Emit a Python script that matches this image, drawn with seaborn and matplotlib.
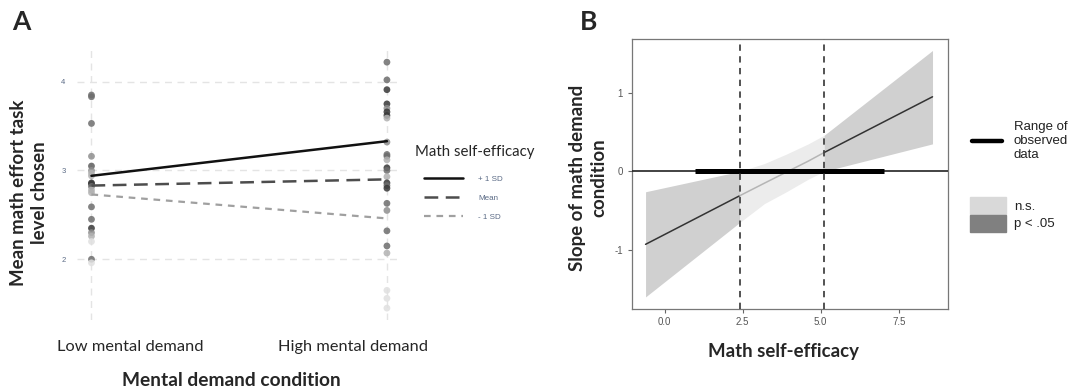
import matplotlib
matplotlib.use("Agg")
import matplotlib.pyplot as plt
import seaborn as sns
import pandas as pd
import numpy as np
from matplotlib.lines import Line2D
from matplotlib.patches import Patch

sns.set_theme(style="white")
plt.rcParams['font.family'] = ['Lato', 'DejaVu Sans']

# ---------------- Panel A data ----------------
conditions = ["Low mental demand", "High mental demand"]
low_values = [3.85, 3.83, 3.53, 3.16, 3.05, 3.00, 2.97, 2.94, 2.86, 2.85, 2.82, 2.78,
              2.75, 2.59, 2.45, 2.35, 2.30, 2.26, 2.20, 2.00, 1.96]
low_efficacy = [5.5, 5.5, 5.5, 4.5, 6.0, 4.5, 3.5, 3.5, 7.0, 7.0, 5.5, 3.5,
                3.5, 5.5, 5.5, 7.0, 4.5, 3.5, 1.8, 5.5, 1.8]
high_values = [4.22, 4.02, 3.91, 3.75, 3.70, 3.66, 3.62, 3.59, 3.32, 3.18, 3.16, 3.12,
               3.03, 3.00, 2.93, 2.86, 2.83, 2.80, 2.63, 2.55, 2.32, 2.15, 2.07,
               1.65, 1.56, 1.45]
high_efficacy = [5.5, 5.5, 7.0, 7.0, 4.5, 7.0, 7.0, 3.5, 4.5, 5.5, 5.5, 3.5,
                 7.0, 5.5, 3.5, 7.0, 5.5, 7.0, 5.5, 4.5, 5.5, 5.5, 3.5,
                 1.8, 1.8, 1.8]
plus_sd = [2.94, 3.33]
mean_sd = [2.83, 2.90]
minus_sd = [2.73, 2.46]
legend_a_labels = ["+ 1 SD", "Mean", "- 1 SD"]
y_ticks_a = [2, 3, 4]

# ---------------- Panel B data ----------------
jn_x = [-0.61, 2.41, 3.2, 3.9, 4.6, 5.11, 8.58]
jn_slope = [-0.93, -0.31, -0.15, -0.01, 0.13, 0.24, 0.95]
jn_lower = [-1.60, -0.65, -0.41, -0.26, -0.10, 0.00, 0.35]
jn_upper = [-0.26, 0.00, 0.10, 0.22, 0.35, 0.46, 1.54]
jn_bounds = [2.41, 5.11]
observed_range = [0.96, 7.03]
x_ticks_b = [0.0, 2.5, 5.0, 7.5]
y_ticks_b = [-1, 0, 1]

W, H = 1072, 390
fig = plt.figure(figsize=(W / 100, H / 100), dpi=100)
TITLE_FS = 13.4

# ================= Panel A =================
axA = fig.add_axes([76.7 / W, 1 - 320 / H, 325 / W, 270 / H])
df = pd.DataFrame({
    "cond": [0] * len(low_values) + [1] * len(high_values),
    "value": low_values + high_values,
    "eff": low_efficacy + high_efficacy,
})
slate = "#5a6a85"
grid_kw = dict(color="#e4e4e4", lw=1.0, ls=(0, (5, 4)), zorder=0)
for yt in y_ticks_a:
    axA.axhline(yt, **grid_kw)
for xc in [0, 1]:
    axA.axvline(xc, **grid_kw)
sns.scatterplot(data=df, x="cond", y="value", hue="eff", palette="Greys",
                hue_norm=(0, 8.5), s=24, alpha=0.85, edgecolor="none",
                legend=False, ax=axA, zorder=2)
xs = [0, 1]
minus_ls = (0, (3.0, 2.6))
mean_ls = (0, (5.5, 3))
axA.plot(xs, plus_sd, color="#111111", lw=1.8, ls="-", zorder=3)
axA.plot(xs, mean_sd, color="#4d4d4d", lw=1.8, ls=mean_ls, zorder=3)
axA.plot(xs, minus_sd, color="#a0a0a0", lw=1.6, ls=minus_ls, zorder=3)
axA.set_xlim(-0.05, 1.05)
axA.set_ylim(1.316, 4.357)
axA.set_yticks(y_ticks_a)
axA.set_yticklabels([str(v) for v in y_ticks_a], fontsize=5.5, color=slate,
                    family="Liberation Sans")
axA.tick_params(axis="y", length=0, pad=8)
axA.set_xticks([])
axA.set_xlabel("")
axA.set_ylabel("")
for sp in axA.spines.values():
    sp.set_visible(False)

fig.text(130 / W, 1 - 347 / H, conditions[0], fontsize=11.8, ha="center", va="center")
fig.text(353 / W, 1 - 347 / H, conditions[1], fontsize=11.8, ha="center", va="center")
fig.text(231 / W, 1 - 380 / H, "Mental demand condition", fontsize=TITLE_FS + 0.4,
         fontweight="bold", ha="center", va="center")
fig.text(29 / W, 1 - 193 / H, "Mean math effort task\nlevel chosen", fontsize=TITLE_FS,
         fontweight="bold", ha="center", va="center", rotation=90, linespacing=1.35)
fig.text(21 / W, 1 - 22 / H, "A", fontsize=19, fontweight="bold", ha="center", va="center")

fig.text(415 / W, 1 - 152 / H, "Math self-efficacy", fontsize=10.8, ha="left", va="center")
handles_a = [Line2D([], [], color="#111111", lw=1.8, ls="-"),
             Line2D([], [], color="#4d4d4d", lw=1.8, ls=mean_ls),
             Line2D([], [], color="#a0a0a0", lw=1.6, ls=minus_ls)]
legA = fig.legend(handles_a, legend_a_labels,
                  loc="upper left", bbox_to_anchor=(424 / W, 1 - 175 / H),
                  frameon=False, prop={"family": "Liberation Sans", "size": 5.8},
                  handlelength=4.8, handletextpad=1.9, labelspacing=1.45,
                  borderaxespad=0, borderpad=0)
for t in legA.get_texts():
    t.set_color(slate)

# ================= Panel B =================
axB = fig.add_axes([631.5 / W, 1 - 308.7 / H, 316 / W, 270 / H])
band_dark = "#d0d0d0"
band_light = "#ececec"
segments = [(0, 2, band_dark, "#333333"), (1, 6, band_light, "#b5b5b5"), (5, 7, band_dark, "#333333")]
for i0, i1, bc, lc in segments:
    axB.fill_between(jn_x[i0:i1], jn_lower[i0:i1], jn_upper[i0:i1], color=bc,
                     lw=0, zorder=1)
for i0, i1, bc, lc in segments:
    sns.lineplot(x=jn_x[i0:i1], y=jn_slope[i0:i1], color=lc, lw=1.1, ax=axB, zorder=3)
axB.axhline(0, color="#222222", lw=1.2, zorder=4)
axB.plot(observed_range, [0, 0], color="black", lw=3.6, solid_capstyle="butt", zorder=5)
for b in jn_bounds:
    axB.axvline(b, color="#444444", lw=1.3, ls=(0, (3.5, 3)), zorder=6)
axB.set_xlim(-1.06, 9.06)
axB.set_ylim(-1.75, 1.69)
axB.set_xticks(x_ticks_b)
axB.set_xticklabels([f"{v:.1f}" for v in x_ticks_b])
axB.set_yticks(y_ticks_b)
axB.set_yticklabels([str(v) for v in y_ticks_b])
for lab in axB.get_xticklabels() + axB.get_yticklabels():
    lab.set_family("Liberation Sans")
    lab.set_fontsize(7)
    lab.set_color("#555555")
axB.tick_params(axis="both", length=3, width=0.8, color="#666666", pad=3,
                bottom=True, left=True)
for sp in axB.spines.values():
    sp.set_visible(True)
    sp.set_color("#777777")
    sp.set_linewidth(0.9)
axB.set_xlabel("")
axB.set_ylabel("")

fig.text(783 / W, 1 - 352 / H, "Math self-efficacy", fontsize=TITLE_FS, fontweight="bold",
         ha="center", va="center")
fig.text(588 / W, 1 - 178 / H, "Slope of math demand\ncondition", fontsize=TITLE_FS,
         fontweight="bold", ha="center", va="center", rotation=90, linespacing=1.35)
fig.text(589 / W, 1 - 22 / H, "B", fontsize=19, fontweight="bold", ha="center", va="center")

legB1 = fig.legend([Line2D([], [], color="black", lw=3.2)], ["Range of\nobserved\ndata"],
                   loc="upper left", bbox_to_anchor=(972 / W, 1 - 121 / H), frameon=False,
                   prop={"family": "Liberation Sans", "size": 9.5}, handlelength=2.3,
                   handletextpad=0.85, borderaxespad=0, borderpad=0)
for t in legB1.get_texts():
    t.set_linespacing(1.25)
    t.set_color("#222222")
legB2 = fig.legend([Patch(color="#d9d9d9"), Patch(color="#808080")], ["n.s.", "p < .05"],
                   loc="upper left", bbox_to_anchor=(970 / W, 1 - 197 / H), frameon=False,
                   prop={"family": "Liberation Sans", "size": 9.5}, handlelength=2.7,
                   handleheight=1.6, handletextpad=0.65, labelspacing=0.05,
                   borderaxespad=0, borderpad=0)
for t in legB2.get_texts():
    t.set_color("#222222")

fig.savefig("out.png", dpi=100)
